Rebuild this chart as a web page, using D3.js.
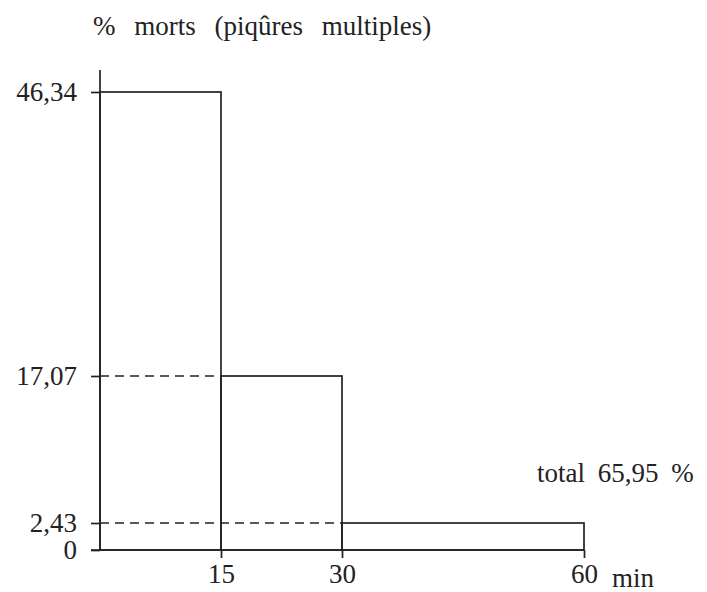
<!DOCTYPE html>
<html><head><meta charset="utf-8">
<script src="https://cdn.jsdelivr.net/npm/d3@7"></script>
<style>
body{margin:0;background:#fff;}
svg text{font-family:"Liberation Serif","Times New Roman","DejaVu Serif",serif !important;fill:#222;}
</style></head>
<body><svg id="c" width="707" height="592"></svg>
<script>
// Data
const binStarts = [0, 15, 30];
const binEnds = [15, 30, 60];
const deathPct = [46.34, 17.07, 2.43];
const yTickValues = [0, 2.43, 17.07, 46.34];
const xTickValues = [15, 30, 60];
const titleText = "% morts (piqûres multiples)";
const totalText = "total 65,95 %";
const xUnit = "min";

const svg = d3.select("#c");
const ink = "#222";
const fs = 27;

const x = d3.scaleLinear().domain([0, 60]).range([100, 584]);
// picture's vertical scale is slightly uneven: map through the labelled values
const y = d3.scaleLinear().domain([0, 2.43, 17.07, 46.34]).range([550, 523, 376, 92]);
const fmt = v => String(v).replace(".", ",");

const bars = binStarts.map((s, i) => ({s, e: binEnds[i], v: deathPct[i]}));

// dashed guides
svg.selectAll("line.guide").data(bars.slice(1)).enter().append("line")
  .attr("x1", x(0)).attr("x2", d => x(d.s))
  .attr("y1", d => y(d.v)).attr("y2", d => y(d.v))
  .attr("stroke", ink).attr("stroke-width", 1.7).attr("stroke-dasharray", "9,6");

// bars (outlines)
svg.selectAll("rect.bar").data(bars).enter().append("rect")
  .attr("x", d => x(d.s)).attr("width", d => x(d.e) - x(d.s))
  .attr("y", d => y(d.v)).attr("height", d => y(0) - y(d.v))
  .attr("fill", "none").attr("stroke", ink).attr("stroke-width", 1.7);

// y axis
const yAxis = d3.axisLeft(y).tickValues(yTickValues).tickFormat(fmt).tickSize(9).tickPadding(14);
const gy = svg.append("g").attr("transform", `translate(${x(0)},0)`).call(yAxis)
  .attr("font-family", null).attr("font-size", fs);
gy.select(".domain").remove();
gy.selectAll("line").attr("stroke", ink).attr("stroke-width", 1.7);
gy.selectAll("text").attr("fill", ink);
svg.append("line").attr("x1", x(0)).attr("x2", x(0))
  .attr("y1", y(0)).attr("y2", y(48.6)).attr("stroke", ink).attr("stroke-width", 1.7);

// x axis
const xAxis = d3.axisBottom(x).tickValues(xTickValues).tickFormat(d => d).tickSize(8).tickPadding(6);
const gx = svg.append("g").attr("transform", `translate(0,${y(0)})`).call(xAxis)
  .attr("font-family", null).attr("font-size", fs);
gx.select(".domain").remove();
gx.selectAll("line").attr("stroke", ink).attr("stroke-width", 1.7);
gx.selectAll("text").attr("fill", ink);
svg.append("line").attr("x1", x(0) - 9).attr("x2", x(60))
  .attr("y1", y(0)).attr("y2", y(0)).attr("stroke", ink).attr("stroke-width", 1.7);

svg.append("text").attr("x", x(60) + 28).attr("y", 587).attr("font-size", fs).text(xUnit);

// title
svg.append("text").attr("x", 93).attr("y", 35).attr("font-size", fs)
  .attr("word-spacing", 12).text(titleText);

// total annotation
svg.append("text").attr("x", 537).attr("y", 482).attr("font-size", fs)
  .attr("word-spacing", 6).text(totalText);
</script></body></html>
